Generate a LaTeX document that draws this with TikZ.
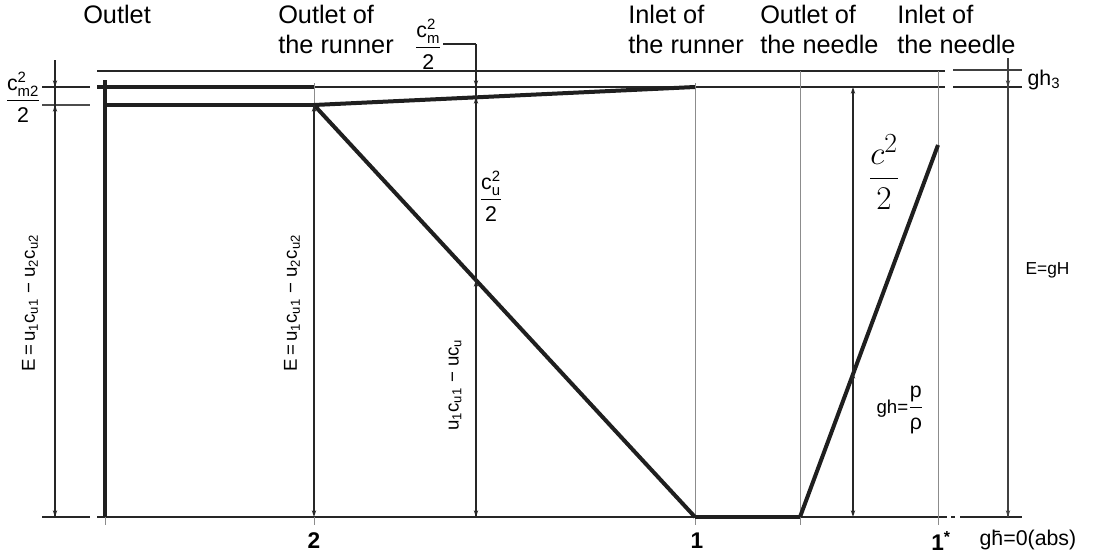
\documentclass[tikz,border=0pt]{standalone}
\usepackage{amsmath}
\usepackage{fontspec}
\setmainfont{Liberation Sans}
\usetikzlibrary{arrows.meta,calc}
\begin{document}
\begin{tikzpicture}[x=0.75pt,y=-0.75pt,
  heavy/.style={line width=3pt,black!88},
  rule/.style={line width=1.5pt,black!85},
  guide/.style={line width=0.6pt,black!45},
  dim/.style={line width=1.3pt,black!85},
  tipd/.style={-{Stealth[length=5pt,width=3.2pt]}},
  head/.style={font=\fontsize{19}{22.5}\selectfont,align=left,anchor=north west,inner sep=0pt},
  num/.style={font=\bfseries\fontsize{17}{20}\selectfont,inner sep=0pt},
  lab/.style={font=\fontsize{12}{14}\selectfont,inner sep=1pt},
  frac/.style={font=\fontsize{16}{18}\selectfont,inner sep=0pt},
  rlab/.style={font=\fontsize{14}{16}\selectfont,inner sep=1pt,rotate=90}]
\useasboundingbox (0,0) rectangle (1099,553);

% key points
\coordinate (tl) at (97,71);   \coordinate (tr) at (945,71);
\coordinate (ml) at (97,87);   \coordinate (mr) at (945,87);
\coordinate (bl) at (97,517);  \coordinate (br) at (947,517);
\coordinate (o1) at (105,80);  \coordinate (o2) at (105,517);
\coordinate (o3) at (105,105);
\coordinate (a) at (314,105);  \coordinate (a87) at (314,87); \coordinate (atop) at (314,83);
\coordinate (ab) at (314,517);
\coordinate (r) at (695,87);   \coordinate (rtop) at (695,83); \coordinate (rb) at (695,517);
\coordinate (n) at (800,517);  \coordinate (ntop) at (800,71);
\coordinate (q) at (938,145);  \coordinate (qtop) at (938,71); \coordinate (qb) at (938,517);

% horizontal reference lines
\draw[rule] (tl) -- (tr);
\draw[rule] (a87) -- (mr);
\draw[rule] (bl) -- (br);
\draw[rule] (951,517) -- (955,517);
\draw[rule] (940,71) -- (944,71);
\coordinate (g1) at (953,70); \coordinate (g2) at (1022,70);
\coordinate (g3) at (953,87); \coordinate (g4) at (1022,87);
\coordinate (g5) at (960,517); \coordinate (g6) at (1022,517);
\draw[line width=1pt,black!75] (g1) -- (g2);
\draw[rule] (g3) -- (g4);
\draw[rule] (g5) -- (g6);
% left extension lines
\coordinate (e1) at (42,87);  \coordinate (e2) at (90,87);
\coordinate (e3) at (42,105); \coordinate (e4) at (90,105);
\coordinate (e5) at (42,517); \coordinate (e6) at (90,517);
\draw[rule] (e1) -- (e2);
\draw[line width=1pt,black!70] (e3) -- (e4);
\draw[rule] (e5) -- (e6);

% guide verticals
\draw[guide] (atop) -- (a);
\draw[guide] (rtop) -- ($(rb)+(0,8)$);
\draw[guide] (ntop) -- ($(n)+(0,8)$);
\draw[guide] (qtop) -- ($(qb)+(0,8)$);
\draw[guide] (ab) -- ++(0,8);
\draw[guide] (o2) -- ++(0,8);

% heavy energy lines
\draw[heavy] (ml) -- (a87);
\draw[heavy] (o3) -- (a);
\draw[heavy] (o1) -- (o2);
\draw[heavy] (a) -- (r);
\draw[heavy] (a) -- (rb);
\draw[heavy] (rb) -- (n);
\draw[heavy] (n) -- (q);

% dimension at x=55
\coordinate (d1) at (55,60);  \coordinate (d1a) at (55,87);
\coordinate (d1b) at (55,105); \coordinate (d1c) at (55,517);
\draw[dim] (d1) -- (d1c);
\draw[dim,tipd] (55,76) -- (d1a);
\draw[dim,tipd] (55,116) -- (d1b);
\draw[dim,tipd] (55,500) -- (d1c);
% dimension at x=314
\draw[dim,tipd] (314,130) -- (a);
\draw[dim,tipd] (a) -- (ab);
% dimension at x=476
\coordinate (k0) at (443,44); \coordinate (k1) at (476,44);
\coordinate (k2) at (476,87); \coordinate (k3) at (476,97);
\coordinate (k4) at (476,280); \coordinate (k5) at (476,517);
\draw[line width=1pt,black!85] (k0) -- (k1);
\draw[dim] (k1) -- (k5);
\draw[dim,tipd] (476,76) -- (k2);
\draw[dim,tipd] (476,110) -- (k3);
\draw[dim,tipd] (476,295) -- (k4);
\draw[dim,tipd] (476,500) -- (k5);
% dimension at x=853
\coordinate (m1) at (853,87); \coordinate (m2) at (853,372); \coordinate (m3) at (853,517);
\draw[dim,tipd] (853,110) -- (m1);
\draw[dim] (853,110) -- (853,372);
\draw[dim,tipd] (853,385) -- (m2);
\draw[dim] (853,385) -- (853,500);
\draw[dim,tipd] (853,500) -- (m3);
% dimension at x=1008
\coordinate (h1) at (1008,58); \coordinate (h2) at (1008,87); \coordinate (h3) at (1008,517);
\draw[line width=1pt,black!75] (h1) -- (h3);
\draw[line width=1pt,black!75,tipd] (1008,76) -- (h2);
\draw[line width=1pt,black!75,tipd] (1008,500) -- (h3);

% headings
\node[head] (t1) at (83,5) {Outlet};
\node[head] (t2) at (278,5) {Outlet of\\the runner};
\node[head] (t3) at (628,5) {Inlet of\\the runner};
\node[head] (t4) at (760,5) {Outlet of\\the needle};
\node[head] (t5) at (897,5) {Inlet of\\the needle};

% bottom numbers
\node[num] (n2) at (314,541) {2};
\node[num] (n1) at (697,541) {1};
\node[num,anchor=west] (n1s) at (931,541) {1\textsuperscript{*}};

% labels
\node[frac,anchor=east] (lcm2) at (41,97) {$\dfrac{\text{c}^{\text{2}}_{\text{m2}}}{\text{2}}$};
\node[frac,anchor=east] (lcm) at (442,44) {$\dfrac{\text{c}^{\text{2}}_{\text{m}}}{\text{2}}$};
\node[frac] (lcu) at (491,196) {$\dfrac{\text{c}^{\text{2}}_{\text{u}}}{\text{2}}$};
\node[rlab] (le1) at (30,303) {E\,=\,u\textsubscript{1}c\textsubscript{u1} − u\textsubscript{2}c\textsubscript{u2}};
\node[rlab] (le2) at (292,303) {E\,=\,u\textsubscript{1}c\textsubscript{u1} − u\textsubscript{2}c\textsubscript{u2}};
\node[rlab] (le3) at (455,385) {u\textsubscript{1}c\textsubscript{u1} − uc\textsubscript{u}};
\node[font=\fontsize{28}{34}\selectfont,inner sep=0pt] (lc) at (884,172) {$\dfrac{c^{2}}{2}$};
\node[frac] (lgh) at (900,410) {{\fontsize{14}{16}\selectfont gh=}$\dfrac{\text{p}}{\text{ρ}}$};
\node[lab,anchor=west,font=\fontsize{13}{15}\selectfont] (lgH) at (1024,270) {E=gH};
\node[lab,anchor=west,font=\fontsize{16}{18}\selectfont] (lgh3) at (1026,80) {gh\textsubscript{3}};
\node[lab,anchor=west,font=\fontsize{16}{18}\selectfont] (lgh0) at (978,540) {g\={h}=0(abs)};
\end{tikzpicture}
\end{document}
